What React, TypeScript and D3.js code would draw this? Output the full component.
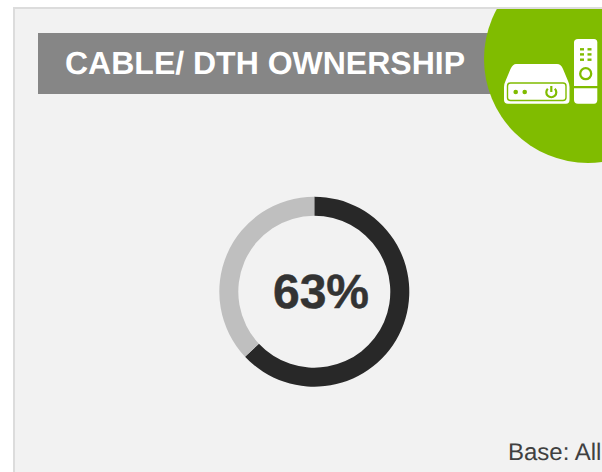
import React from "react";
import * as d3 from "d3";

const title = "CABLE/ DTH OWNERSHIP";
const segments = ["owners", "others"];
const shares = [63, 37];
const centerLabel = "63%";
const baseNote = "Base: All";
const segmentColors = ["#282828", "#bfbfbf"];
const font = "'Liberation Sans', Arial, sans-serif";
const green = "#80bc00";

export default function App() {
  const pie = d3.pie<number>().sort(null).value((d) => d);
  const arc = d3.arc<d3.PieArcDatum<number>>().innerRadius(76).outerRadius(95);
  const arcs = pie(shares);
  return (
    <svg
      width={602}
      height={472}
      viewBox="0 0 602 472"
      textRendering="geometricPrecision"
      style={{ position: "fixed", left: 0, top: 0, background: "#fff" }}
    >
      <defs>
        <clipPath id="card">
          <rect x={15} y={9} width={587} height={463} />
        </clipPath>
      </defs>
      <rect x={14} y={8} width={600} height={480} fill="#f2f2f2" stroke="#dcdcdc" strokeWidth={2} />
      <rect x={38} y={33} width={460} height={61} fill="#868686" />
      <text x={65} y={74} fontFamily={font} fontWeight={700} fontSize={32} fill="#fff">
        {title}
      </text>
      <g clipPath="url(#card)">
        <circle cx={588} cy={59} r={104} fill={green} />
      </g>
      {/* set-top box */}
      <path
        d="M516 64 H557 Q561 64 563 69 L568 81 Q569.5 84 569.5 87 V100 Q569.5 103.7 566 103.7 H508 Q504 103.7 504 100 V87 Q504 84 505.5 81 L510.5 69 Q513 64 516 64 Z"
        fill="#fff"
      />
      <rect x={507.5} y={83} width={58.5} height={17.5} rx={3} fill="none" stroke={green} strokeWidth={1.4} />
      <circle cx={515.7} cy={92} r={2.3} fill={green} />
      <circle cx={524.7} cy={92} r={2.3} fill={green} />
      <path d="M547.8 88.7 A5 5 0 1 0 554.8 88.7" fill="none" stroke={green} strokeWidth={2.2} />
      <path d="M551.3 86 V92" stroke={green} strokeWidth={2.2} />
      {/* remote */}
      <path d="M578 39 H594 Q597.3 39 597.3 42.5 V86 H574 V42.5 Q574 39 578 39 Z" fill="#fff" />
      <path d="M574 88.3 H597.3 V100 Q597.3 103.7 594 103.7 H578 Q574 103.7 574 100 Z" fill="#fff" />
      {[49.3, 54.4, 59.7].map((y) => (
        <g key={y} fill={green}>
          <rect x={580} y={y - 1.2} width={4} height={2.4} />
          <rect x={587.5} y={y - 1.2} width={4} height={2.4} />
        </g>
      ))}
      <circle cx={585.7} cy={73.7} r={5.5} fill="none" stroke={green} strokeWidth={2.3} />
      <g transform="translate(314.3,291.7)">
        {arcs.map((a, i) => (
          <path key={segments[i]} d={arc(a) ?? ""} fill={segmentColors[i]} />
        ))}
      </g>
      <text x={321} y={308} textAnchor="middle" fontFamily={font} fontWeight={700} fontSize={48} fill="#333" stroke="#333" strokeWidth={0.5}>
        {centerLabel}
      </text>
      <text x={508} y={460} fontFamily={font} fontSize={24} fill="#404040">
        {baseNote}
      </text>
    </svg>
  );
}
